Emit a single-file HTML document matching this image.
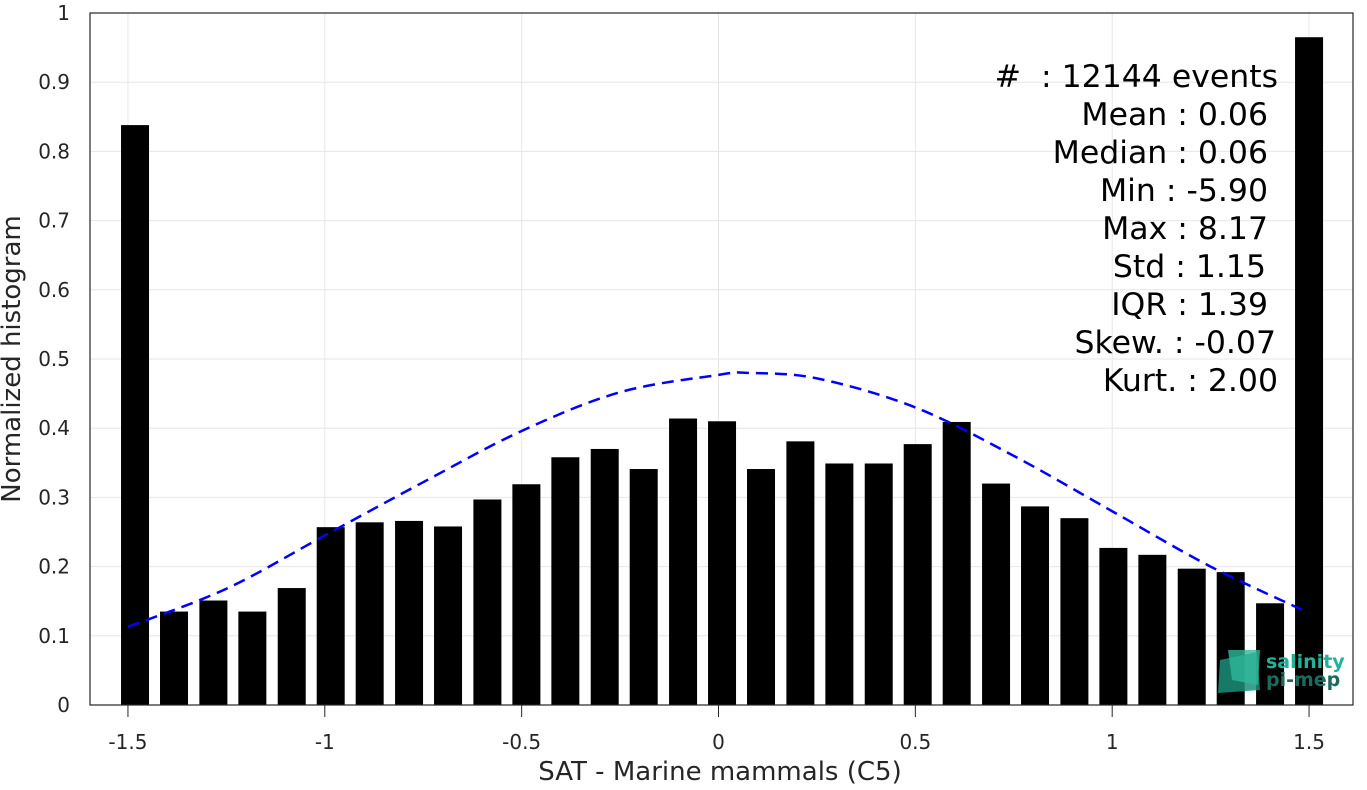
<!DOCTYPE html>
<html><head><meta charset="utf-8"><style>
body{margin:0;background:#fff;font-family:"Liberation Sans","DejaVu Sans",sans-serif}
svg text{font-family:"DejaVu Sans","Liberation Sans",sans-serif}
</style></head><body>
<svg id="chart" width="1367" height="785" xmlns="http://www.w3.org/2000/svg">
<rect width="1367" height="785" fill="#fff"/>
<g id="grid"></g><g id="bars"></g><g id="curve"></g><g id="axes"></g>
<g font-size="31.5" fill="#000" text-anchor="end">
<text x="1278" y="87" xml:space="preserve">#  : 12144 events</text>
<text x="1268" y="125">Mean : 0.06</text>
<text x="1268" y="163">Median : 0.06</text>
<text x="1268" y="201">Min : -5.90</text>
<text x="1268" y="239">Max : 8.17</text>
<text x="1266" y="277">Std : 1.15</text>
<text x="1268" y="315">IQR : 1.39</text>
<text x="1276" y="353">Skew. : -0.07</text>
<text x="1278" y="391">Kurt. : 2.00</text>
</g>
<g>
<polygon points="1220,660 1257,652 1260,690 1218,693" fill="#1a8f78" opacity="0.85"/>
<polygon points="1228,650 1260,650 1258,685 1232,680" fill="#2fb89a" opacity="0.8"/>
<text x="1266" y="668" font-size="19" font-weight="bold" fill="#1fb39a">salinity</text>
<text x="1266" y="686" font-size="19" font-weight="bold" fill="#1a6b5e">pi-mep</text>
</g>
<text x="720" y="780" font-size="26" fill="#262626" text-anchor="middle">SAT - Marine mammals (C5)</text>
<text transform="translate(20,359) rotate(-90)" font-size="26" fill="#262626" text-anchor="middle">Normalized histogram</text>
</svg>
<script>
const binCenters=[-1.482,-1.383,-1.283,-1.184,-1.084,-0.985,-0.886,-0.786,-0.687,-0.587,-0.488,-0.389,-0.289,-0.190,-0.090,0.009,0.108,0.208,0.307,0.407,0.506,0.605,0.705,0.804,0.904,1.003,1.102,1.202,1.301,1.401,1.500];
const binValues=[0.838,0.135,0.151,0.135,0.169,0.257,0.264,0.266,0.258,0.297,0.319,0.358,0.370,0.341,0.414,0.410,0.341,0.381,0.349,0.349,0.377,0.409,0.320,0.287,0.270,0.227,0.217,0.197,0.192,0.147,0.965];
const fitX=[-1.5,-1.25,-1.0,-0.75,-0.5,-0.25,0,0.07,0.25,0.5,0.75,1.0,1.25,1.5];
const fitY=[0.113,0.168,0.245,0.322,0.396,0.452,0.477,0.480,0.472,0.430,0.360,0.280,0.200,0.133];
const xTicks=[-1.5,-1,-0.5,0,0.5,1,1.5];
const xTickLabels=["-1.5","-1","-0.5","0","0.5","1","1.5"];
const yTicks=[0,0.1,0.2,0.3,0.4,0.5,0.6,0.7,0.8,0.9,1];
const yTickLabels=["0","0.1","0.2","0.3","0.4","0.5","0.6","0.7","0.8","0.9","1"];
const L=90,R=1353,T=13,B=705;
const xs=v=>718.5+(v)*393.7;
const ys=v=>B-v*(B-T);
const NS="http://www.w3.org/2000/svg";
function mk(t,a,p){const e=document.createElementNS(NS,t);for(const k in a)e.setAttribute(k,a[k]);p.appendChild(e);return e;}
const g=document.getElementById('grid'),bg=document.getElementById('bars'),cg=document.getElementById('curve'),ag=document.getElementById('axes');
xTicks.forEach((v,i)=>{
 const l=mk('line',{x1:xs(v),x2:xs(v),y1:T,y2:B,stroke:'#e6e6e6'},g);
 
 
 const tk=mk('line',{x1:xs(v),x2:xs(v),y1:B,y2:B+12,stroke:'#262626'},ag);
 
 
 const t=mk('text',{x:xs(v),y:749,'font-size':20,fill:'#262626','text-anchor':'middle'},ag);
 t.textContent=xTickLabels[i];
 
 
});
yTicks.forEach((v,i)=>{
 const l=mk('line',{x1:L,x2:R,y1:ys(v),y2:ys(v),stroke:'#e6e6e6'},g);
 
 
 const t=mk('text',{x:70,y:ys(v)+7,'font-size':20,fill:'#262626','text-anchor':'end'},ag);
 t.textContent=yTickLabels[i];
 
 
});
binCenters.forEach((c,i)=>{
 const r=mk('rect',{x:xs(c)-14,y:ys(binValues[i]),width:28,height:B-ys(binValues[i]),fill:'#000'},bg);
 
 
});
const pts=fitX.map((x,i)=>[xs(x),ys(fitY[i])]);
let d='M'+pts[0][0]+','+pts[0][1];
for(let i=0;i<pts.length-1;i++){
 const p0=pts[Math.max(0,i-1)],p1=pts[i],p2=pts[i+1],p3=pts[Math.min(pts.length-1,i+2)];
 const c1=[p1[0]+(p2[0]-p0[0])/6,p1[1]+(p2[1]-p0[1])/6];
 const c2=[p2[0]-(p3[0]-p1[0])/6,p2[1]-(p3[1]-p1[1])/6];
 d+=' C'+c1[0]+','+c1[1]+' '+c2[0]+','+c2[1]+' '+p2[0]+','+p2[1];
}
const p=mk('path',{d:d,fill:'none',stroke:'#0000ff','stroke-width':2.5,'stroke-dasharray':'12,7'},cg);


const box=mk('rect',{x:L,y:T,width:R-L,height:B-T,fill:'none',stroke:'#262626','stroke-width':1.2},ag);


</script>
</body></html>
